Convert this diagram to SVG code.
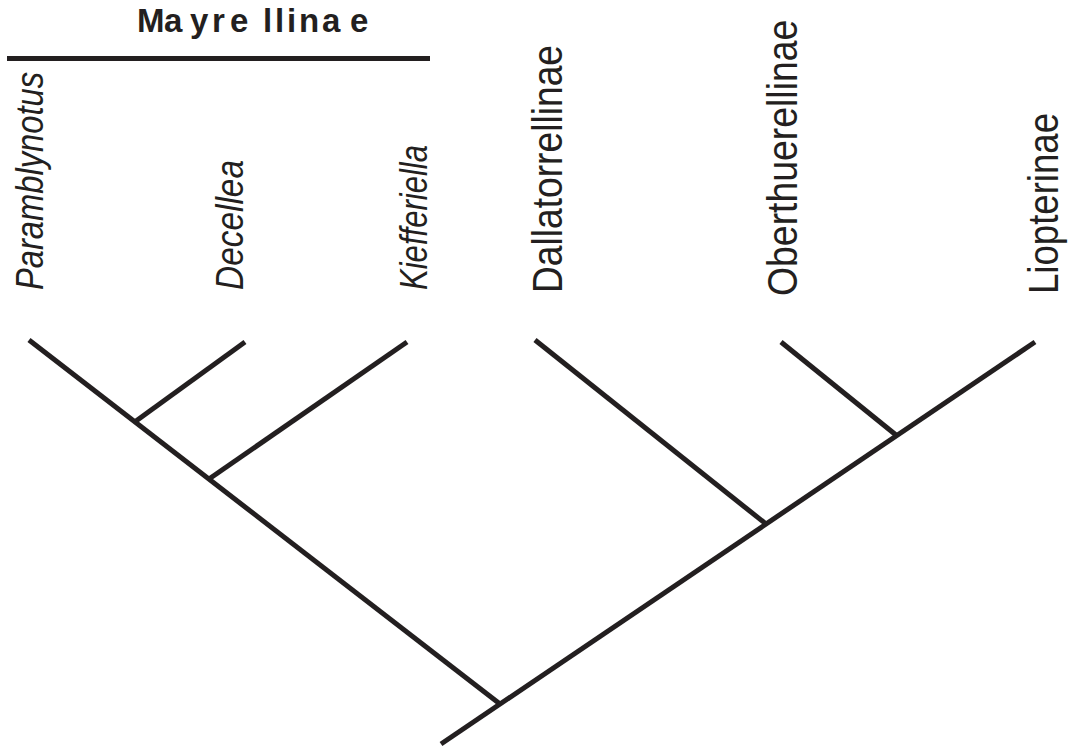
<svg xmlns="http://www.w3.org/2000/svg" width="1074" height="748" viewBox="0 0 1074 748">
<style>
.br{stroke:#231f20;stroke-width:5;fill:none;stroke-linecap:butt}
.it{font-family:"Liberation Sans",Arial,sans-serif;font-style:italic;font-size:39px;fill:#231f20}
.rm{font-family:"Liberation Sans",Arial,sans-serif;font-size:42px;fill:#231f20}
.ti{font-family:"Liberation Sans",Arial,sans-serif;font-weight:bold;font-size:33px;fill:#231f20}
</style>
<rect width="1074" height="748" fill="#fff"/>
<g id="title">
<text class="ti" x="137 164 190 212 230 263 275 287 299 322 350" y="32">Mayrellinae</text>
<line class="br" x1="7" y1="58.5" x2="430" y2="58.5"/>
</g>
<g id="taxon-paramblynotus"><text class="it" transform="translate(43,290) rotate(-90)" textLength="218" lengthAdjust="spacingAndGlyphs">Paramblynotus</text></g>
<g id="taxon-decellea"><text class="it" transform="translate(243,290) rotate(-90)" textLength="130" lengthAdjust="spacingAndGlyphs">Decellea</text></g>
<g id="taxon-kiefferiella"><text class="it" transform="translate(427,290) rotate(-90)" textLength="145" lengthAdjust="spacingAndGlyphs">Kiefferiella</text></g>
<g id="taxon-dallatorrellinae"><text class="rm" transform="translate(562,293) rotate(-90)" textLength="248" lengthAdjust="spacingAndGlyphs">Dallatorrellinae</text></g>
<g id="taxon-oberthuerellinae"><text class="rm" transform="translate(797,296) rotate(-90) scale(0.89,1)">Oberthuerellinae</text></g>
<g id="taxon-liopterinae"><text class="rm" transform="translate(1058,294) rotate(-90)" textLength="181" lengthAdjust="spacingAndGlyphs">Liopterinae</text></g>
<g id="connectors">
<line class="br" x1="29" y1="340" x2="500" y2="704"/>
<line class="br" x1="245" y1="342" x2="136" y2="421"/>
<line class="br" x1="407" y1="342" x2="209" y2="479"/>
<line class="br" x1="441" y1="744" x2="1035" y2="342"/>
<line class="br" x1="535" y1="340" x2="766" y2="524"/>
<line class="br" x1="781" y1="342" x2="896" y2="435"/>
</g>
</svg>
